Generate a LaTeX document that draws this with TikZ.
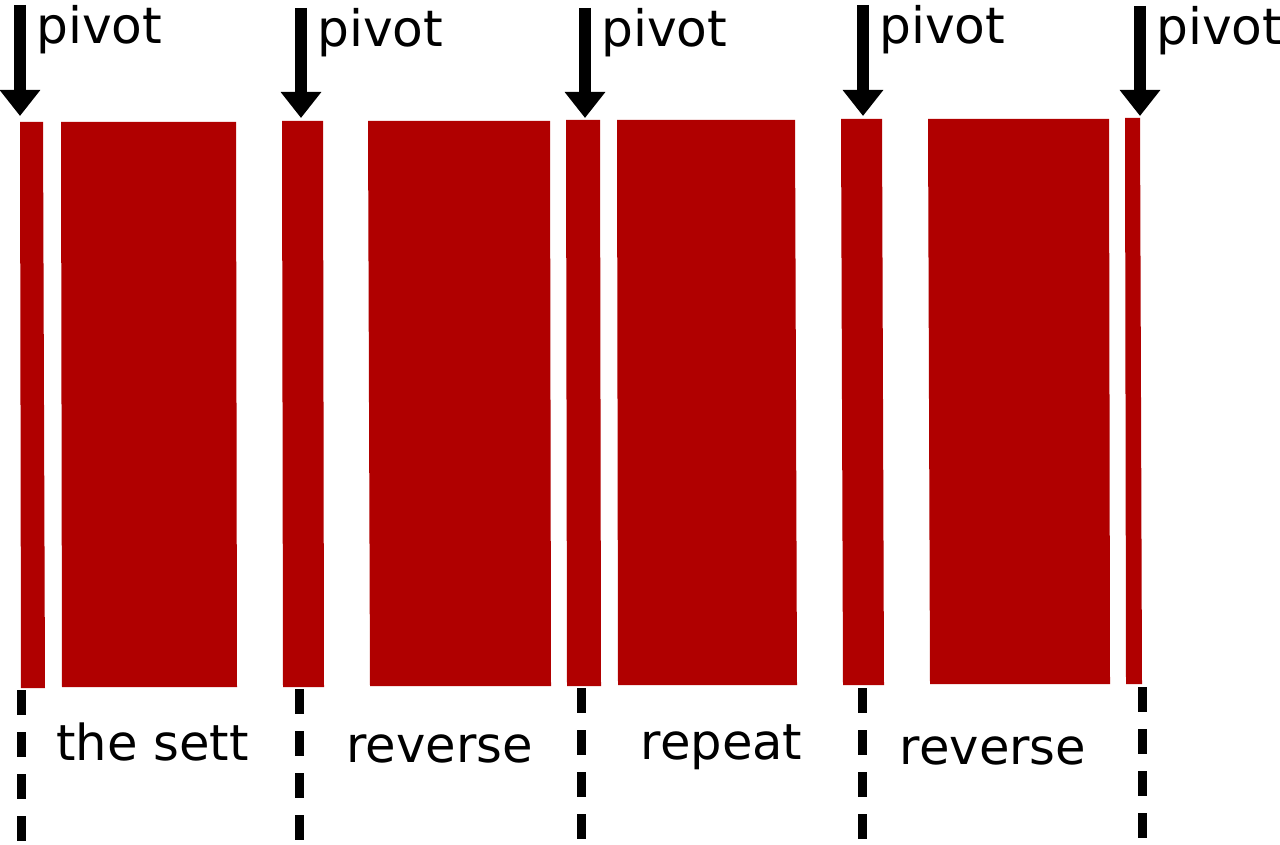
\documentclass[tikz,border=0pt]{standalone}
\usepackage{fontspec}
\setmainfont{DejaVu Sans}
\usetikzlibrary{arrows.meta}
\definecolor{settred}{RGB}{176,0,0}
\tikzset{
  pivotarrow/.style={line width=6pt, -{Triangle[width=19.5pt, length=13pt]}},
  pivotlabel/.style={font=\fontsize{25.1}{30}\selectfont, inner sep=0pt, anchor=base west},
  partlabel/.style={font=\fontsize{24.8}{30}\selectfont, inner sep=0pt, anchor=base},
  partline/.style={line width=4.5pt, dash pattern=on 12.25pt off 8.75pt}
}
\begin{document}
\begin{tikzpicture}[x=0.5pt, y=-0.5pt]
\useasboundingbox (0,0) rectangle (1280,845);
% the stripes
\foreach \tl/\tr/\ty/\bl/\br/\by in {
    20/43/122/21/45/688, 61/236/122/62/237/687,
    282/323/121/283/324/687, 368/550/121/370/551/686,
    566/600/120/567/601/686, 617/795/120/618/797/685,
    841/882/119/843/884/685, 928/1109/119/930/1110/684,
    1125/1140/118/1126/1142/684}
  \fill[settred] (\tl,\ty) -- (\tr,\ty) -- (\br,\by) -- (\bl,\by) -- cycle;

% pivots
\foreach \n/\x/\top/\tip/\base in {A/20/5/116/44, B/301/8/118/46.5, C/585/8/118/46.5, D/863/5/116/43.5, E/1140/6/116/44.5} {
  \coordinate (top\n) at (\x,\top);
  \coordinate (tip\n) at (\x,\tip);
  \node[pivotlabel] (piv\n) at (\x+16,\base) {pivot};
  \draw[pivotarrow] (top\n) -- (tip\n);
}

% borders between the parts
\foreach \n/\x/\from/\to in {A/21/690/845, B/299/689/842, C/581/688/839, D/862/688/840, E/1142/687/838} {
  \coordinate (up\n) at (\x,\from);
  \coordinate (down\n) at (\x,\to);
  \draw[partline] (up\n) -- (down\n);
}

\node[partlabel] (sett) at (152.5,760) {the sett};
\node[partlabel] (reverseA) at (439.5,762) {reverse};
\node[partlabel] (repeat) at (721.5,759) {repeat};
\node[partlabel] (reverseB) at (993,764) {reverse};
\end{tikzpicture}
\end{document}
